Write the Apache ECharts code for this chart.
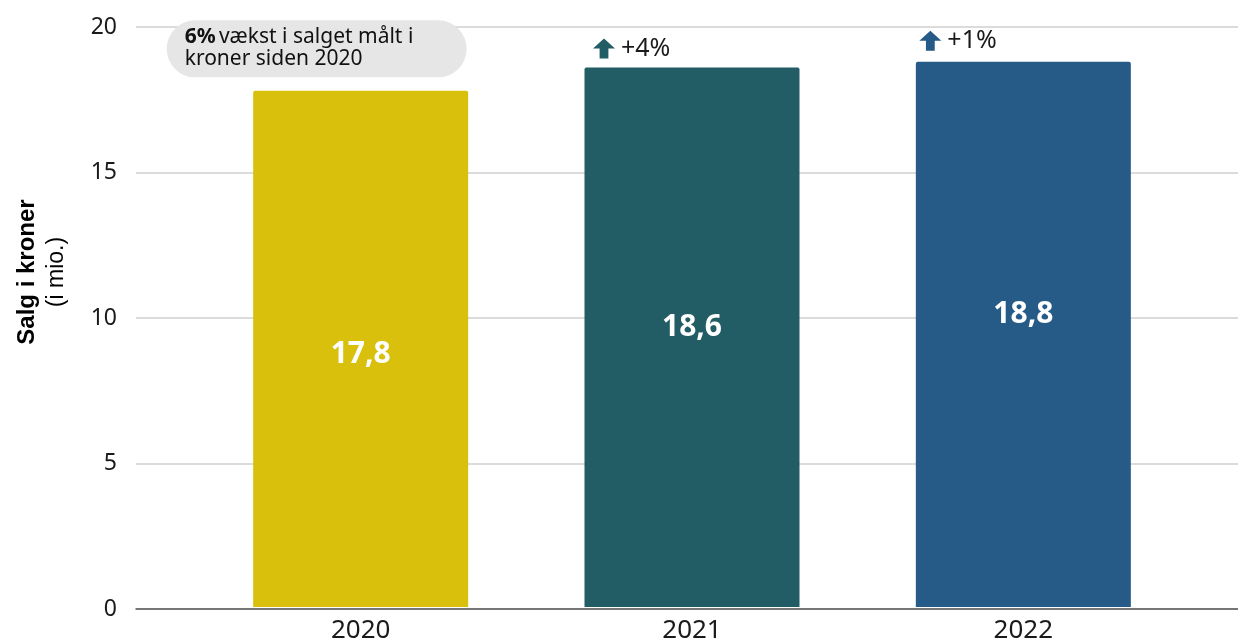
<!DOCTYPE html>
<html>
<head>
<meta charset="utf-8">
<script src="https://cdn.jsdelivr.net/npm/echarts@6/dist/echarts.min.js"></script>
<style>
  html, body { margin: 0; padding: 0; background: #fff; }
  #chart { width: 1238px; height: 644px; }
</style>
</head>
<body>
<div id="chart"></div>
<script>
// Annual sales in DKK (millions)
const years = ['2020', '2021', '2022'];
const sales = [17.8, 18.6, 18.8];
const growthLabels = ['', '+4%', '+1%'];
const yTicks = [0, 5, 10, 15, 20];

const barColors = ['#D8C00C', '#225C65', '#265A87'];
const FONT = '"Noto Sans", "Open Sans", sans-serif';
// vertical drop of each value label from its bar top
const valueLabelDrop = [264, 260, 253];
// shift of the growth arrows relative to the bar top centre
const arrowShift = [[0, 0], [-88, -19], [-93, -21]];

const chart = echarts.init(document.getElementById('chart'));

const barData = sales.map((v, i) => ({
  value: v,
  itemStyle: { color: barColors[i] },
  label: { position: ['50%', valueLabelDrop[i]] }
}));

const noteData = sales.map((v, i) => {
  if (i === 0) {
    return {
      value: v,
      symbol: 'rect',
      symbolSize: 1,
      itemStyle: { color: 'rgba(0,0,0,0)', opacity: 1 },
      label: {
        show: true,
        position: 'top',
        distance: 13,
        offset: [-194, 0],
        backgroundColor: '#E6E6E6',
        borderRadius: 29,
        padding: [6, 18, 7, 18],
        width: 264,
        align: 'left',
        formatter: '{b|6%} {n|vækst i salget målt i}\n{n|kroner siden 2020}',
        rich: {
          b: { fontFamily: FONT, fontSize: 21, fontWeight: 'bold', color: '#111', lineHeight: 22 },
          n: { fontFamily: FONT, fontSize: 21, color: '#111', lineHeight: 22 }
        }
      }
    };
  }
  return {
    value: v,
    symbol: 'path://M10,0 L20,10 L14,10 L14,20 L6,20 L6,10 L0,10 Z',
    symbolSize: [22, 20],
    symbolOffset: arrowShift[i],
    itemStyle: { color: barColors[i], opacity: 1 },
    label: {
      show: true,
      position: 'right',
      distance: 6,
      formatter: growthLabels[i],
      fontFamily: FONT,
      fontSize: 25,
      color: '#1a1a1a'
    }
  };
});

chart.setOption({
  animation: false,
  backgroundColor: '#fff',
  grid: [
    { left: 136, right: 0, top: 27, bottom: 35 },
    { left: 195, right: 49, top: 27, bottom: 35 }
  ],
  xAxis: [
    {
      gridIndex: 0, type: 'value', min: 0, max: 1,
      axisLine: { show: true, onZero: false, lineStyle: { color: '#555', width: 1.5 } },
      axisTick: { show: false }, axisLabel: { show: false }, splitLine: { show: false }
    },
    {
      gridIndex: 1, type: 'category', data: years,
      axisLine: { show: false }, axisTick: { show: false },
      axisLabel: { margin: 11, fontFamily: FONT, fontSize: 26, color: '#1a1a1a' }
    }
  ],
  yAxis: [
    {
      gridIndex: 0, type: 'value', min: yTicks[0], max: yTicks[yTicks.length - 1], interval: 5,
      axisLine: { show: false }, axisTick: { show: false },
      axisLabel: { margin: 19, fontFamily: FONT, fontSize: 23, color: '#1a1a1a' },
      splitLine: { lineStyle: { color: '#CFCFCF', width: 1.5 } }
    },
    {
      gridIndex: 1, type: 'value', min: yTicks[0], max: yTicks[yTicks.length - 1], interval: 5,
      show: false
    }
  ],
  graphic: [{
    type: 'text',
    x: 42,
    y: 272,
    rotation: Math.PI / 2,
    style: {
      text: '{b|Salg i kroner}\n{n|(i mio.)}',
      align: 'center',
      verticalAlign: 'middle',
      rich: {
        b: { fontFamily: '"Liberation Sans", Arial, sans-serif', fontSize: 24, fontWeight: 'bold', fill: '#000', lineHeight: 30, align: 'center' },
        n: { fontFamily: '"Liberation Sans", Arial, sans-serif', fontSize: 23, fill: '#000', lineHeight: 30, align: 'center' }
      }
    }
  }],
  series: [
    {
      type: 'bar',
      xAxisIndex: 1, yAxisIndex: 1,
      data: barData,
      barWidth: 215,
      itemStyle: { borderRadius: [2, 2, 0, 0] },
      label: {
        show: true,
        align: 'center',
        verticalAlign: 'middle',
        formatter: p => String(p.value).replace('.', ','),
        fontFamily: FONT,
        fontSize: 30,
        fontWeight: 'bold',
        color: '#fff'
      },
      z: 2
    },
    {
      type: 'scatter',
      xAxisIndex: 1, yAxisIndex: 1,
      data: noteData,
      silent: true,
      z: 5
    }
  ]
});
</script>
</body>
</html>
